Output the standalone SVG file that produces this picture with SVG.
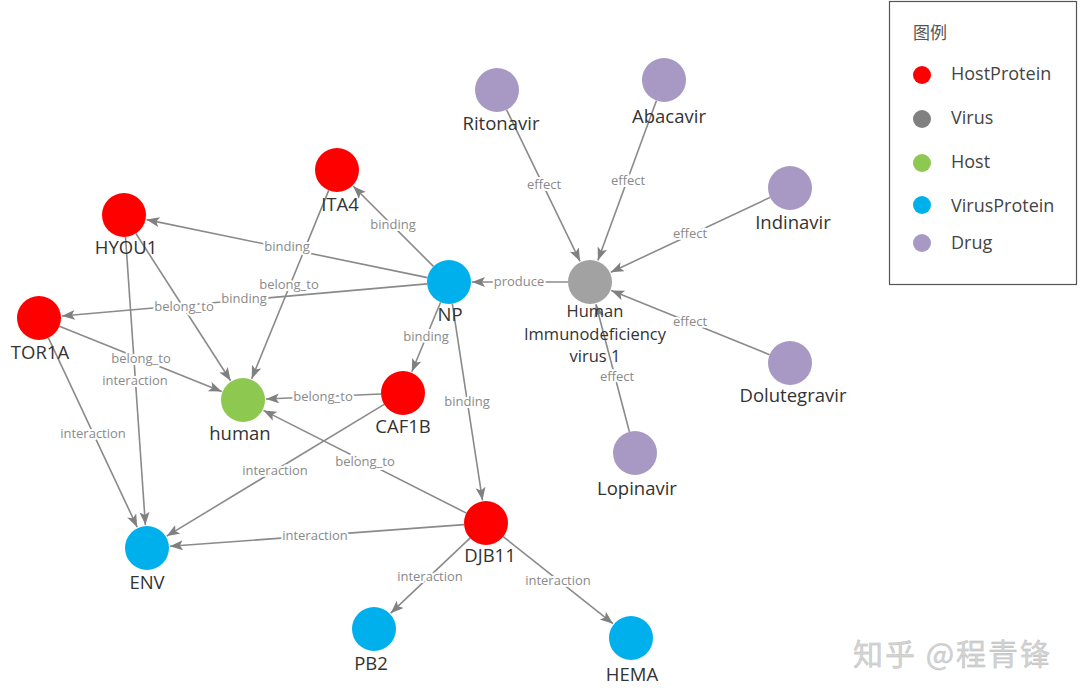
<svg xmlns="http://www.w3.org/2000/svg" width="1080" height="697" viewBox="0 0 1080 697">
<defs>
<marker id="arr" markerUnits="userSpaceOnUse" markerWidth="14" markerHeight="12" refX="13" refY="5" orient="auto">
<path d="M0,0 L13,5 L0,10 L3,5 Z" fill="#808080"/>
</marker>
<style>
.e{stroke:#8a8a8a;stroke-width:1.6;fill:none;marker-end:url(#arr)}
.el{font-family:"Open Sans","Noto Sans",sans-serif;font-size:13px;fill:#8a8a8a;text-anchor:middle;stroke:#fff;stroke-width:4;paint-order:stroke;stroke-linejoin:round}
.nl{font-family:"Open Sans","Noto Sans",sans-serif;font-size:18.5px;fill:#333;text-anchor:middle}
.hl{font-family:"Open Sans","Noto Sans",sans-serif;font-size:16.5px;fill:#333;text-anchor:middle}
.hp{fill:#ff0000}.vi{fill:#a2a2a2}.ho{fill:#8dc850}.vp{fill:#00b0ec}.dr{fill:#a899c4}
.lg{font-family:"Open Sans","Noto Sans",sans-serif;font-size:18px;fill:#444}
</style>
</defs>
<rect width="1080" height="697" fill="#fff"/>
<g id="edges">
<line class="e" x1="433.4" y1="266.4" x2="353.3" y2="186.3"/>
<line class="e" x1="427.5" y1="277.6" x2="146.5" y2="219.6"/>
<line class="e" x1="427.1" y1="283.9" x2="61.9" y2="316"/>
<line class="e" x1="328.7" y1="190.4" x2="251.7" y2="378.7"/>
<line class="e" x1="135.9" y1="233.5" x2="230.6" y2="380.7"/>
<line class="e" x1="59.4" y1="326.2" x2="221.7" y2="391.4"/>
<line class="e" x1="125.5" y1="236.9" x2="145.4" y2="525.1"/>
<line class="e" x1="48.4" y1="337.9" x2="137.2" y2="527.2"/>
<line class="e" x1="381" y1="394" x2="266" y2="399"/>
<line class="e" x1="384.2" y1="404.4" x2="166.7" y2="536.1"/>
<line class="e" x1="466.4" y1="513.1" x2="263.5" y2="410.4"/>
<line class="e" x1="440.6" y1="302.3" x2="411.8" y2="371.8"/>
<line class="e" x1="452.3" y1="303.7" x2="482.5" y2="500.3"/>
<line class="e" x1="568" y1="282" x2="472" y2="282"/>
<line class="e" x1="464.1" y1="524.6" x2="169.9" y2="546.3"/>
<line class="e" x1="470" y1="538.1" x2="390.7" y2="613.2"/>
<line class="e" x1="503.2" y1="536.7" x2="613" y2="623.7"/>
<line class="e" x1="506.6" y1="109.8" x2="580" y2="261.3"/>
<line class="e" x1="656.4" y1="100.7" x2="597.9" y2="260.4"/>
<line class="e" x1="770.1" y1="197.4" x2="610.8" y2="272.2"/>
<line class="e" x1="769.6" y1="354.7" x2="611.3" y2="290.6"/>
<line class="e" x1="629.4" y1="431.7" x2="595.9" y2="304.2"/>
<text class="el" x="393" y="229">binding</text>
<text class="el" x="287" y="251">binding</text>
<text class="el" x="289" y="289">belong_to</text>
<text class="el" x="244" y="303">binding</text>
<text class="el" x="184" y="311">belong_to</text>
<text class="el" x="141" y="363">belong_to</text>
<text class="el" x="135" y="385">interaction</text>
<text class="el" x="93" y="438">interaction</text>
<text class="el" x="323" y="401">belong_to</text>
<text class="el" x="275" y="475">interaction</text>
<text class="el" x="365" y="466">belong_to</text>
<text class="el" x="426" y="341">binding</text>
<text class="el" x="467" y="406">binding</text>
<text class="el" x="519" y="286">produce</text>
<text class="el" x="315" y="540">interaction</text>
<text class="el" x="430" y="581">interaction</text>
<text class="el" x="558" y="585">interaction</text>
<text class="el" x="544" y="189">effect</text>
<text class="el" x="628" y="185">effect</text>
<text class="el" x="690" y="238">effect</text>
<text class="el" x="690" y="326">effect</text>
<text class="el" x="617" y="381">effect</text>
</g>
<g id="node-ITA4"><circle class="hp" cx="337" cy="170" r="22"/><text class="nl" x="340" y="211">ITA4</text></g>
<g id="node-HYOU1"><circle class="hp" cx="124" cy="215" r="22"/><text class="nl" x="126" y="254">HYOU1</text></g>
<g id="node-TOR1A"><circle class="hp" cx="39" cy="318" r="22"/><text class="nl" x="40" y="359">TOR1A</text></g>
<g id="node-human"><circle class="ho" cx="243" cy="400" r="22"/><text class="nl" x="240" y="440">human</text></g>
<g id="node-CAF1B"><circle class="hp" cx="403" cy="393" r="22"/><text class="nl" x="403" y="433">CAF1B</text></g>
<g id="node-NP"><circle class="vp" cx="449" cy="282" r="22"/><text class="nl" x="450" y="321">NP</text></g>
<g id="node-HIV"><circle class="vi" cx="590" cy="282" r="22"/><text class="hl" x="595" y="317">Human</text><text class="hl" x="595" y="339.5">Immunodeficiency</text><text class="hl" x="595" y="362">virus 1</text></g>
<g id="node-Ritonavir"><circle class="dr" cx="497" cy="90" r="22"/><text class="nl" x="501" y="130">Ritonavir</text></g>
<g id="node-Abacavir"><circle class="dr" cx="664" cy="80" r="22"/><text class="nl" x="669" y="123">Abacavir</text></g>
<g id="node-Indinavir"><circle class="dr" cx="790" cy="188" r="22"/><text class="nl" x="793" y="229">Indinavir</text></g>
<g id="node-Dolutegravir"><circle class="dr" cx="790" cy="363" r="22"/><text class="nl" x="793" y="402">Dolutegravir</text></g>
<g id="node-Lopinavir"><circle class="dr" cx="635" cy="453" r="22"/><text class="nl" x="637" y="495">Lopinavir</text></g>
<g id="node-DJB11"><circle class="hp" cx="486" cy="523" r="22"/><text class="nl" x="490" y="562">DJB11</text></g>
<g id="node-ENV"><circle class="vp" cx="147" cy="548" r="22"/><text class="nl" x="147" y="589">ENV</text></g>
<g id="node-PB2"><circle class="vp" cx="374" cy="629" r="22"/><text class="nl" x="371" y="670">PB2</text></g>
<g id="node-HEMA"><circle class="vp" cx="631" cy="638" r="22"/><text class="nl" x="632" y="681">HEMA</text></g>
<g id="legend">
<rect x="889.5" y="1.5" width="187" height="283" fill="#fff" stroke="#555" stroke-width="1.2"/>
<text x="913" y="39" font-family="'Noto Sans CJK SC',sans-serif" font-size="17" fill="#555">图例</text>
<circle class="hp" cx="922" cy="75" r="9"/><text class="lg" x="951" y="80">HostProtein</text>
<circle cx="922" cy="119" r="9" fill="#808080"/><text class="lg" x="951" y="124">Virus</text>
<circle class="ho" cx="922" cy="163" r="9"/><text class="lg" x="951" y="168">Host</text>
<circle class="vp" cx="922" cy="205" r="9"/><text class="lg" x="951" y="212">VirusProtein</text>
<circle class="dr" cx="922" cy="243" r="9"/><text class="lg" x="951" y="249">Drug</text>
</g>
<text x="853" y="665" font-family="'Noto Sans CJK SC',sans-serif" font-size="30" letter-spacing="2" fill="#d4d4d4" stroke="#bbb" stroke-width="0.4">知乎 @程青锋</text>
</svg>
